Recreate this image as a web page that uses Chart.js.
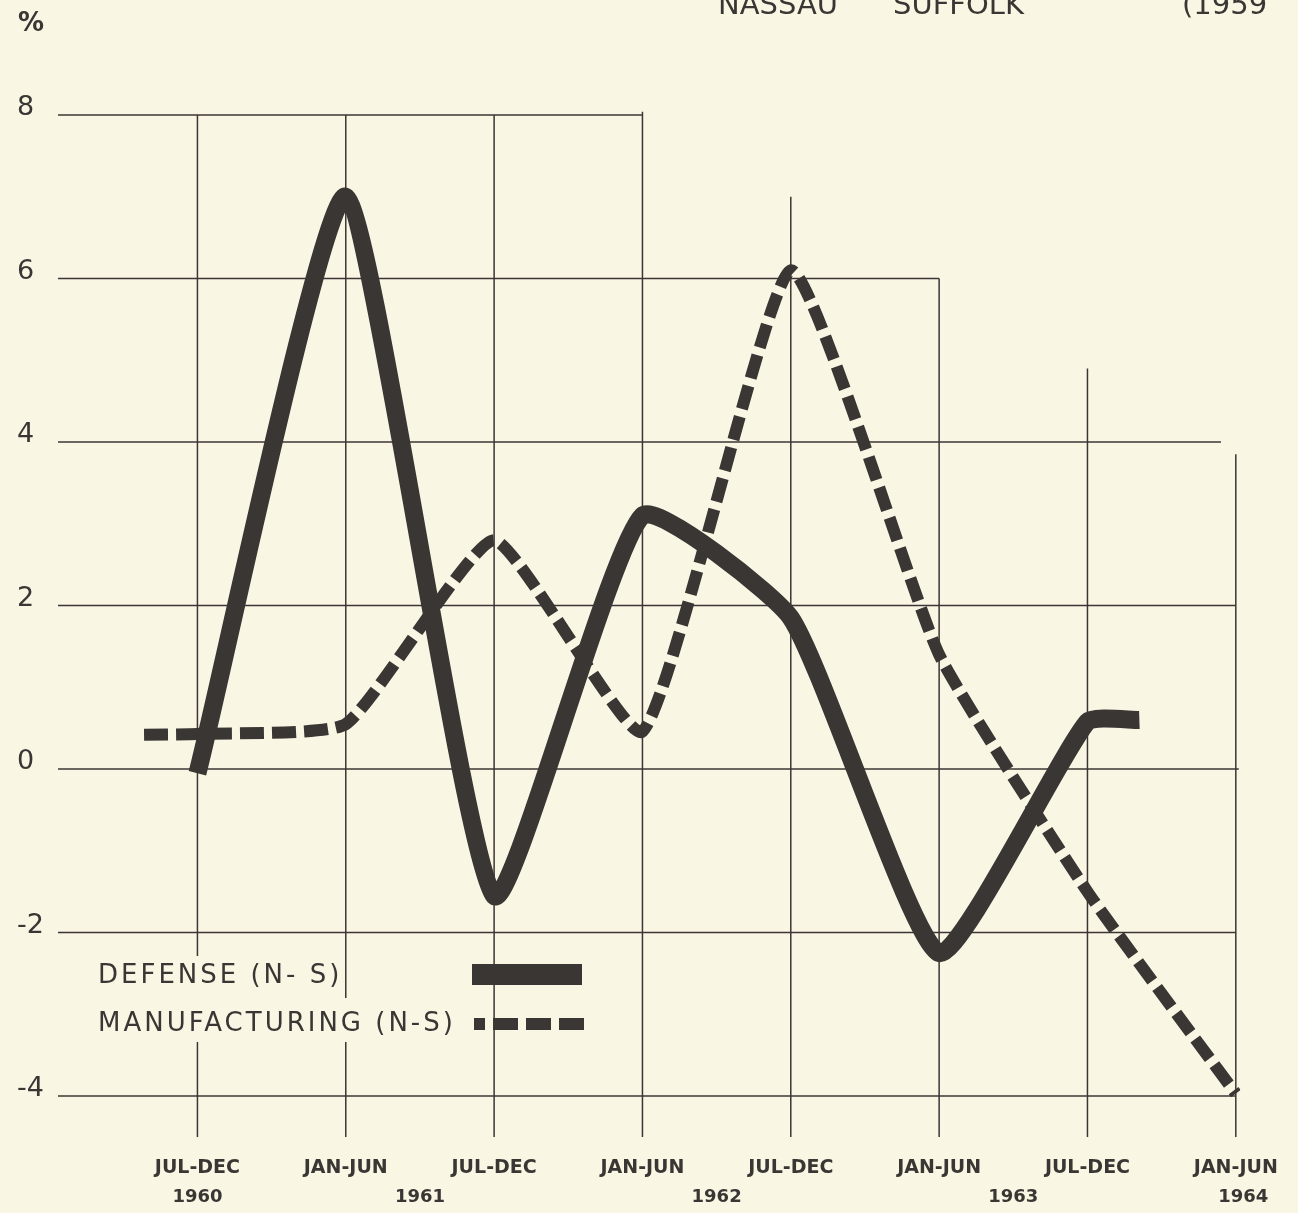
<!DOCTYPE html>
<html>
<head>
<meta charset="utf-8">
<script src="https://cdn.jsdelivr.net/npm/chart.js@4.4.0/dist/chart.umd.min.js"></script>
<style>
  html, body { margin: 0; padding: 0; background: #faf6e4; }
  #wrap { width: 1298px; height: 1213px; }
</style>
</head>
<body>
<div id="wrap"><canvas id="chart" width="1298" height="1213"></canvas></div>
<script>
// half-year periods, x = index (0 = Jul-Dec 1960)
const periods = ['JUL-DEC', 'JAN-JUN', 'JUL-DEC', 'JAN-JUN', 'JUL-DEC', 'JAN-JUN', 'JUL-DEC', 'JAN-JUN'];
const years = ['1960', '1961', '1962', '1963', '1964'];
const yearPos = [0, 1.5, 3.5, 5.5, 7.05];
const yTicks = [-4, -2, 0, 2, 4, 6, 8];

const defenseX = [0, 1, 2, 3, 4, 5, 6, 6.35];
const defenseY = [-0.05, 7.0, -1.55, 3.1, 1.85, -2.25, 0.58, 0.6];

const mfgX = [-0.36, 0, 1, 2, 3, 4, 5, 6, 7];
const mfgY = [0.42, 0.43, 0.55, 2.8, 0.46, 6.1, 1.4, -1.5, -3.97];

// the hand-ruled grid: lines don't all run the full width/height
const hGrid = [[8, -0.94, 3], [6, -0.94, 5], [4, -0.94, 6.9], [2, -0.94, 7], [0, -0.94, 7.02], [-2, -0.94, 7], [-4, -0.94, 7]];
const vGrid = [[0, 8, -4.5], [1, 8, -4.5], [2, 8, -4.5], [3, 8.04, -4.5], [4, 7.0, -4.5], [5, 6, -4.5], [6, 4.9, -4.5], [7, 3.85, -4.5]];

const ink = '#393634';
const paper = '#faf6e4';

const toPoints = (xs, ys) => xs.map((x, i) => ({ x: x, y: ys[i] }));

const paperPlugin = {
  id: 'paper',
  beforeDraw(chart) {
    const ctx = chart.ctx;
    ctx.save();
    ctx.fillStyle = paper;
    ctx.fillRect(0, 0, chart.width, chart.height);
    ctx.restore();
  },
  beforeDatasetsDraw(chart) {
    const ctx = chart.ctx;
    const xs = chart.scales.x, ys = chart.scales.y;
    ctx.save();
    ctx.strokeStyle = '#3d3535';
    ctx.lineWidth = 1.5;
    hGrid.forEach(([v, a, b]) => {
      const y = ys.getPixelForValue(v);
      ctx.beginPath();
      ctx.moveTo(xs.getPixelForValue(a), y);
      ctx.lineTo(xs.getPixelForValue(b), y);
      ctx.stroke();
    });
    vGrid.forEach(([i, t, b]) => {
      const x = xs.getPixelForValue(i);
      ctx.beginPath();
      ctx.moveTo(x, ys.getPixelForValue(t));
      ctx.lineTo(x, ys.getPixelForValue(b));
      ctx.stroke();
    });
    ctx.restore();
  },
  afterDraw(chart) {
    const ctx = chart.ctx;
    const left = chart.chartArea.left;
    ctx.save();
    ctx.fillStyle = ink;
    // cropped heading at the top of the sheet
    ctx.font = '29px "DejaVu Sans"';
    ctx.textBaseline = 'alphabetic';
    ctx.fillText('NASSAU', 718, 14);
    ctx.fillText('SUFFOLK', 893, 14);
    ctx.fillText('(1959', 1182, 14);
    ctx.font = 'bold 26px "DejaVu Sans"';
    ctx.fillText('%', 18, 31);

    // legend, lettered over the grid
    ctx.fillStyle = paper;
    ctx.fillRect(left + 37, 956, 243, 42);
    ctx.fillRect(left + 37, 998, 366, 44);
    ctx.fillStyle = ink;
    ctx.font = '26px "DejaVu Sans"';
    ctx.letterSpacing = '3px';
    ctx.textBaseline = 'middle';
    ctx.fillText(chart.data.datasets[0].label, left + 40, 976);
    ctx.fillText(chart.data.datasets[1].label, left + 40, 1024);
    ctx.letterSpacing = '0px';
    ctx.fillRect(left + 414, 964, 110, 21);
    ctx.strokeStyle = ink;
    ctx.lineWidth = 12;
    ctx.setLineDash([25, 8]);
    ctx.lineDashOffset = 14;
    ctx.beginPath();
    ctx.moveTo(left + 416, 1024);
    ctx.lineTo(left + 529, 1024);
    ctx.stroke();
    ctx.restore();
  }
};

new Chart(document.getElementById('chart'), {
  type: 'line',
  data: {
    datasets: [
      {
        label: 'DEFENSE (N- S)',
        data: toPoints(defenseX, defenseY),
        borderColor: ink,
        borderWidth: 18,
        borderCapStyle: 'butt',
        borderJoinStyle: 'round',
        tension: 0.16,
        pointRadius: 0
      },
      {
        label: 'MANUFACTURING (N-S)',
        data: toPoints(mfgX, mfgY),
        borderColor: ink,
        borderWidth: 12,
        borderDash: [24, 8],
        borderCapStyle: 'butt',
        tension: 0.15,
        pointRadius: 0
      }
    ]
  },
  options: {
    responsive: false,
    animation: false,
    layout: { padding: { left: 17, right: 57, top: 115, bottom: 0 } },
    plugins: { legend: { display: false }, tooltip: { enabled: false } },
    scales: {
      x: {
        type: 'linear',
        min: -0.94,
        max: 7.03,
        weight: 0,
        grid: { display: false, drawTicks: false },
        border: { display: false },
        afterBuildTicks: s => { s.ticks = periods.map((p, i) => ({ value: i })); },
        afterFit: s => { s.height = 48; },
        ticks: {
          padding: 20,
          color: ink,
          font: { family: 'DejaVu Sans', size: 19, weight: 'bold' },
          maxRotation: 0,
          autoSkip: false,
          callback: v => periods[v]
        }
      },
      x2: {
        type: 'linear',
        position: 'bottom',
        min: -0.94,
        max: 7.03,
        weight: 1,
        grid: { display: false, drawTicks: false },
        border: { display: false },
        afterBuildTicks: s => { s.ticks = yearPos.map(v => ({ value: v })); },
        afterFit: s => { s.height = 28; },
        ticks: {
          padding: 2,
          color: ink,
          font: { family: 'DejaVu Sans', size: 18, weight: 'bold' },
          maxRotation: 0,
          autoSkip: false,
          callback: v => years[yearPos.indexOf(v)]
        }
      },
      y: {
        min: -4.5,
        max: 8,
        grid: { display: false, drawTicks: false },
        border: { display: false },
        afterBuildTicks: s => { s.ticks = yTicks.map(v => ({ value: v })); },
        afterFit: s => { s.width = 41; },
        ticks: {
          crossAlign: 'far',
          labelOffset: -7,
          color: ink,
          font: { family: 'DejaVu Sans', size: 27 },
          callback: v => String(v)
        }
      }
    }
  },
  plugins: [paperPlugin]
});
</script>
</body>
</html>
